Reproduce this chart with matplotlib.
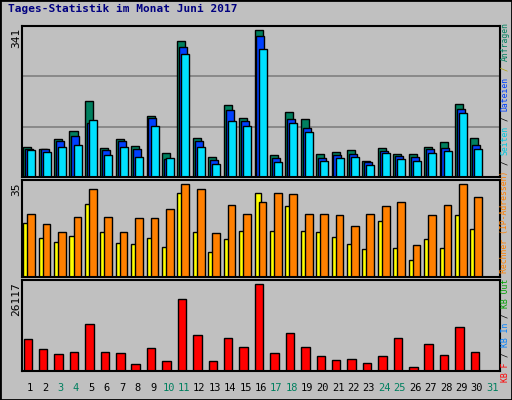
import matplotlib
matplotlib.use("Agg")
import matplotlib.pyplot as plt
from matplotlib.patches import Rectangle

days = list(range(1, 31))
day_labels = [str(d) for d in range(1, 32)]
weekend = [3, 4, 10, 11, 17, 18, 24, 25, 31]

anfragen = [70, 65, 88, 107, 176, 67, 88, 72, 142, 56, 316, 90, 46, 167, 137, 341, 51, 151, 135, 53, 58, 63, 37, 67, 53, 53, 70, 81, 169, 90]
dateien = [64, 64, 83, 95, 125, 62, 83, 66, 138, 41, 302, 83, 40, 155, 130, 327, 45, 135, 115, 45, 52, 54, 34, 60, 48, 47, 65, 68, 159, 75]
seiten = [62, 58, 70, 74, 132, 52, 70, 47, 118, 45, 285, 70, 30, 130, 118, 297, 35, 125, 105, 37, 45, 47, 28, 55, 42, 38, 55, 60, 150, 65]
rechner = [20.5, 14.8, 13.3, 15.6, 27.7, 17.1, 12.9, 12.5, 14.8, 11.4, 31.5, 17.1, 9.5, 14.4, 17.5, 31.5, 17.5, 26.6, 17.5, 17.1, 15.2, 12.5, 10.6, 21.3, 11.0, 6.5, 14.4, 11.0, 23.2, 18.2]
besuche = [23.6, 20.1, 17.1, 22.8, 33.0, 22.8, 17.1, 22.4, 22.4, 25.5, 35.0, 33.0, 16.7, 27.0, 23.9, 28.1, 31.5, 31.2, 23.9, 23.6, 23.2, 19.4, 23.6, 26.6, 28.1, 12.2, 23.2, 27.0, 35.0, 30.0]
kbytes = [9718, 6681, 5163, 5770, 14274, 5770, 5467, 2126, 6985, 3037, 21563, 10933, 3037, 10022, 7289, 26117, 5467, 11541, 7289, 4556, 3341, 3644, 2430, 4556, 10022, 1215, 8200, 4859, 13363, 5770]

W, H = 512, 400
BG = "#C0C0C0"
fig = plt.figure(figsize=(W/100, H/100), dpi=100, facecolor=BG)
mono = "DejaVu Sans Mono"

fig.add_artist(Rectangle((0, 0), 1, 1, transform=fig.transFigure, fill=False, edgecolor="black", lw=2))

x0, x1 = 22, 500
def ax_at(top, bottom):
    return fig.add_axes([x0/W, 1-bottom/H, (x1-x0)/W, (bottom-top)/H], facecolor=BG)

ek = dict(edgecolor="black", linewidth=1, align="edge")

a1 = ax_at(26, 177)
a1.set_ylim(0, 341*1.03)
for g in (341*1.03/3, 341*1.03*2/3):
    a1.axhline(g, color="#808080", lw=1.2, zorder=0)
a1.bar([d-0.42 for d in days], anfragen, width=0.52, color="#00805F", **ek)
a1.bar([d-0.3 for d in days], dateien, width=0.52, color="#0040FF", **ek)
a1.bar([d-0.16 for d in days], seiten, width=0.52, color="#00E0FF", **ek)

a2 = ax_at(180, 277)
a2.set_ylim(0, 35*1.045)
a2.bar([d-0.42 for d in days], rechner, width=0.45, color="#FFFF00", **ek)
a2.bar([d-0.16 for d in days], besuche, width=0.5, color="#FF8000", **ek)

a3 = ax_at(280, 371)
a3.set_ylim(0, 26117*1.05)
a3.bar([d-0.4 for d in days], kbytes, width=0.55, color="#FF0000", **ek)

for a in (a1, a2, a3):
    a.set_xlim(0.5, 31.5)
    a.set_xticks([]); a.set_yticks([])
    for s in a.spines.values():
        s.set_color("black"); s.set_linewidth(1.5)

fig.text(8/W, 1-4/H, "Tages-Statistik im Monat Juni 2017", family=mono, weight="bold",
         color="#000080", fontsize=8, va="top")

for txt, top in (("341", 28), ("35", 182), ("26117", 282)):
    fig.text(16/W, 1-top/H, txt, rotation=90, family=mono, fontsize=8, va="top", ha="center")

for i, lab in enumerate(day_labels):
    d = i + 1
    xc = x0 + (d-0.5)*(x1-x0)/31
    fig.text(xc/W, 1-388/H, lab, family=mono, fontsize=7.5, ha="center", va="center",
             color="#00805F" if d in weekend else "black")

segs = [("KB F", "#FF0000"), (" / ", "black"), ("KB In", "#0080FF"), (" / ", "black"),
        ("KB Out", "#00A000"), (" ", "black"), ("Rechner (IP-Adressen)", "#FF8000"),
        (" / ", "black"), ("Seiten", "#00C8E0"), (" / ", "black"),
        ("Dateien", "#0040FF"), (" / ", "#B0A000"), ("Anfragen", "#00805F")]
fs = 5.9
adv = 0.602 * fs * 100 / 72
y = 382.0
for txt, col in segs:
    if txt.strip():
        s = txt.strip()
        lead = len(txt) - len(txt.lstrip())
        fig.text(505/W, 1-(y - lead*adv)/H, s, rotation=90, family=mono, fontsize=fs,
                 color=col, ha="center", va="bottom")
    y -= len(txt) * adv

fig.savefig("out.png", dpi=100, facecolor=BG)
